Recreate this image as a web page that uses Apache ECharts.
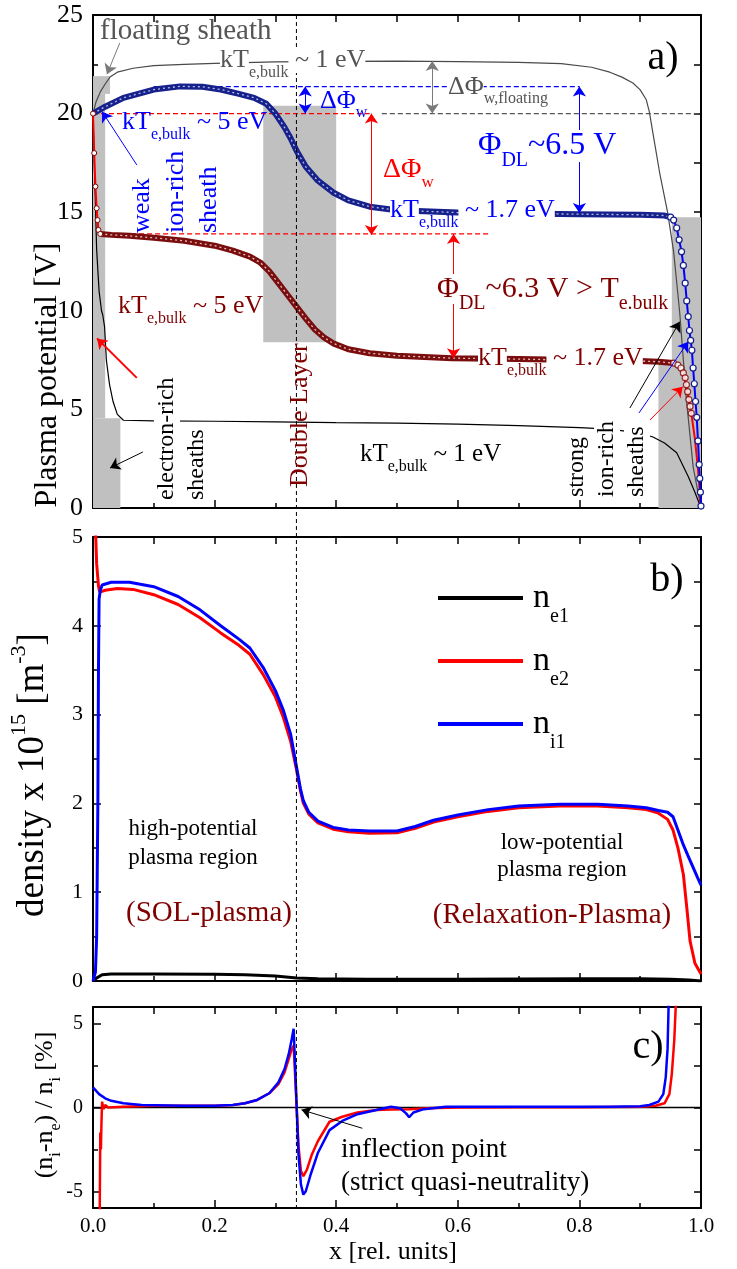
<!DOCTYPE html>
<html>
<head>
<meta charset="utf-8">
<title>plasma potential / density / quasi-neutrality</title>
<script src="https://cdn.jsdelivr.net/npm/echarts@6/dist/echarts.min.js"></script>
<style>
  html, body { margin: 0; padding: 0; background: #fff; }
  #main { width: 737px; height: 1269px; }
</style>
</head>
<body>
<div id="main"></div>
<script>
/*
  3 stacked panels sharing x [rel. units]:
  a) plasma potential, b) densities, c) (ni-ne)/ni
*/

// ---------- panel a : plasma potential [V] ----------
// gray: floating wall, kTe,bulk ~ 1 eV
var potFloating = [[0,20],[0.005,20.6],[0.012,21.1],[0.02,21.5],[0.028,21.85],[0.04,22.1],[0.066,22.3],[0.1,22.43],[0.15,22.5],[0.2,22.55],[0.3,22.62],[0.4,22.65],[0.5,22.66],[0.6,22.64],[0.7,22.6],[0.77,22.53],[0.82,22.35],[0.85,22.1],[0.87,21.85],[0.888,21.55],[0.9,21.2],[0.91,20.7],[0.915,20.1],[0.921,19.0],[0.932,17.0],[0.945,15.0],[0.955,13.0],[0.965,9.9],[0.976,5.5],[0.987,2.1],[1,0]];
// navy: 5 eV -> 1.7 eV
var potHigh = [[0,20],[0.02,20.35],[0.05,20.8],[0.1,21.22],[0.143,21.38],[0.18,21.36],[0.21,21.22],[0.24,21.0],[0.265,20.8],[0.285,20.5],[0.3,20.0],[0.315,19.3],[0.325,18.75],[0.335,18.1],[0.35,17.3],[0.37,16.6],[0.395,16.0],[0.42,15.6],[0.455,15.28],[0.5,15.1],[0.6,14.98],[0.7,14.93],[0.8,14.9],[0.9,14.87],[0.94,14.83],[0.95,14.75]];
var potHighSheathR = [[0.95,14.75],[0.955,14.6],[0.96,14.2],[0.964,13.6],[0.968,13.0],[0.971,12.3],[0.974,11.4],[0.9765,10.5],[0.979,9.7],[0.981,9.0],[0.983,8.5],[0.985,8.0],[0.987,7.1],[0.989,6.3],[0.991,5.4],[0.993,4.6],[0.995,3.4],[0.997,2.2],[0.998,1.5],[0.999,0.8],[1,0.1]];
// maroon: 5 eV -> 1.7 eV
var potLow = [[0.012,13.9],[0.03,13.85],[0.06,13.8],[0.1,13.7],[0.15,13.55],[0.2,13.3],[0.23,13.05],[0.258,12.75],[0.275,12.45],[0.29,12.0],[0.305,11.4],[0.32,10.8],[0.335,10.2],[0.35,9.6],[0.365,9.05],[0.38,8.65],[0.395,8.35],[0.42,8.05],[0.455,7.85],[0.5,7.72],[0.59,7.6],[0.7,7.55],[0.8,7.5],[0.9,7.45],[0.93,7.42],[0.955,7.35]];
var potLowSheathL = [[0,20],[0.002,18.0],[0.004,16.3],[0.006,15.2],[0.0075,14.6],[0.009,14.1],[0.012,13.9]];
var potLowCirclesR = [[0.955,7.35],[0.962,7.25],[0.967,7.1],[0.971,6.85],[0.974,6.6],[0.976,6.25],[0.978,5.9],[0.98,5.5],[0.982,5.15],[0.984,4.8]];
var potRedR = [[0.97,7.0],[0.976,6.2],[0.98,5.5],[0.985,4.6],[0.99,3.5],[0.995,2.0],[1,0]];
// black: kTe,bulk ~ 1 eV, electron-rich sheaths
var potBulk = [[0,20],[0.003,16.5],[0.006,13.1],[0.01,11],[0.014,10.0],[0.016,9.8],[0.017,9.9],[0.019,9.2],[0.022,7.5],[0.027,6.3],[0.033,5.4],[0.04,4.75],[0.05,4.45],[0.1,4.42],[0.2,4.4],[0.3,4.37],[0.4,4.33],[0.5,4.3],[0.6,4.25],[0.7,4.18],[0.8,4.08],[0.85,4.0],[0.9,3.8],[0.921,3.6],[0.94,3.3],[0.96,2.8],[0.979,1.6],[0.99,0.8],[1,0]];
// sheath regions [x0, V0, x1, V1]
var shadeBoxes = [[0,21.0,0.028,21.9],[0,4.55,0.02,21.0],[0,0,0.045,4.55],[0.28,8.4,0.40,20.4],[0.952,0,1,14.74],[0.93,0,1,7.5]];
var dashBlueTop = [[0.1,21.37],[0.8,21.37]];
var dashRed20 = [[0,20],[0.455,20]];
var dashGray20 = [[0.475,20],[1,20]];
var dashRed14 = [[0.01,13.9],[0.65,13.9]];
var xDL = 0.3346;   // double layer / inflection point

// ---------- panel b : density x 1e15 ----------
var denE1 = [[0,0],[0.005,0.03],[0.015,0.07],[0.03,0.08],[0.1,0.08],[0.2,0.075],[0.25,0.07],[0.3,0.055],[0.335,0.035],[0.37,0.025],[0.45,0.02],[0.6,0.02],[0.8,0.025],[0.9,0.025],[0.95,0.02],[0.98,0.01],[1,0]];
var denE2 = [[0.003,5.3],[0.006,4.7],[0.009,4.45],[0.011,4.38],[0.02,4.4],[0.04,4.42],[0.066,4.41],[0.1,4.35],[0.14,4.24],[0.176,4.09],[0.21,3.92],[0.24,3.78],[0.258,3.68],[0.28,3.45],[0.3,3.2],[0.313,2.97],[0.325,2.7],[0.335,2.37],[0.341,2.15],[0.346,2.0],[0.355,1.88],[0.37,1.78],[0.395,1.71],[0.42,1.68],[0.455,1.665],[0.5,1.67],[0.53,1.72],[0.56,1.79],[0.6,1.85],[0.65,1.91],[0.7,1.95],[0.768,1.97],[0.83,1.97],[0.88,1.95],[0.91,1.93],[0.93,1.89],[0.945,1.82],[0.954,1.7],[0.962,1.5],[0.971,1.2],[0.977,0.8],[0.982,0.45],[0.99,0.2],[1,0.08]];
var denI1 = [[0,0],[0.004,0.1],[0.006,0.5],[0.008,2.0],[0.009,3.5],[0.01,4.3],[0.012,4.4],[0.015,4.46],[0.03,4.49],[0.06,4.49],[0.1,4.44],[0.14,4.33],[0.176,4.18],[0.21,4.0],[0.24,3.85],[0.258,3.75],[0.28,3.53],[0.3,3.27],[0.313,3.05],[0.325,2.78],[0.335,2.4],[0.341,2.17],[0.346,2.03],[0.355,1.9],[0.37,1.8],[0.395,1.73],[0.42,1.7],[0.455,1.69],[0.5,1.69],[0.53,1.74],[0.56,1.81],[0.6,1.87],[0.65,1.93],[0.7,1.97],[0.768,1.99],[0.83,1.99],[0.88,1.97],[0.91,1.95],[0.93,1.92],[0.945,1.9],[0.954,1.85],[0.962,1.7],[0.97,1.55],[0.978,1.42],[0.987,1.28],[0.994,1.17],[1,1.08]];

// ---------- panel c : (ni-ne)/ni [%] ----------
var qnRed = [[0.004,-6.5],[0.011,-6.5],[0.012,-1.5],[0.013,-2.5],[0.014,-0.8],[0.015,0.35],[0.017,-0.1],[0.02,0.15],[0.025,0],[0.05,0.05],[0.1,0.1],[0.2,0.1],[0.23,0.15],[0.25,0.25],[0.27,0.45],[0.29,0.85],[0.305,1.4],[0.315,2.1],[0.322,2.9],[0.327,3.5],[0.33,3.7],[0.333,1.5],[0.335,0],[0.338,-2.3],[0.342,-3.8],[0.346,-4.1],[0.352,-3.7],[0.36,-2.8],[0.37,-2.0],[0.389,-0.85],[0.41,-0.55],[0.435,-0.3],[0.466,-0.15],[0.49,-0.12],[0.52,-0.1],[0.55,-0.05],[0.6,0],[0.7,0.02],[0.8,0.02],[0.9,0.05],[0.925,0.1],[0.94,0.25],[0.948,0.8],[0.952,2.0],[0.956,4.0],[0.959,6.5]];
var qnBlue = [[0,1.2],[0.01,0.8],[0.02,0.55],[0.03,0.4],[0.05,0.25],[0.08,0.15],[0.15,0.1],[0.2,0.1],[0.23,0.15],[0.25,0.25],[0.27,0.45],[0.29,0.85],[0.305,1.5],[0.315,2.3],[0.322,3.2],[0.327,4.1],[0.33,4.7],[0.333,2.0],[0.335,0],[0.338,-2.8],[0.342,-4.6],[0.346,-5.2],[0.35,-5.0],[0.358,-4.0],[0.37,-2.7],[0.389,-1.35],[0.41,-0.8],[0.435,-0.4],[0.466,-0.15],[0.49,0.05],[0.505,-0.05],[0.515,-0.35],[0.52,-0.58],[0.527,-0.3],[0.544,-0.1],[0.58,0.05],[0.65,0.05],[0.75,0.05],[0.85,0.05],[0.9,0.08],[0.915,0.15],[0.93,0.35],[0.938,0.8],[0.942,1.8],[0.945,3.5],[0.947,6.5]];
var zeroLine = [[0,0],[1,0]];
var yTicksC = [-5, 0, 5];
var yMinorC = [-2.5, 2.5];
var yRightC = [-5, -2.5, 0, 2.5, 5];

// arrows [from, to, twoHeads]
var arrowsGray = [[[0.044,23.58],[0.023,22.0],false],[[0.558,22.67],[0.558,20.0],true]];
var arrowsBlue = [[[0.072,17.4],[0.015,20.1],false],[[0.349,21.37],[0.349,20.0],true],[[0.80,21.37],[0.80,14.96],true],[[0.898,4.82],[0.979,8.43],false]];
var arrowsRed = [[[0.458,20.0],[0.458,13.85],true],[[0.593,13.9],[0.593,7.6],true],[[0.916,4.46],[0.97,6.15],false]];
var arrowsRedBold = [[[0.072,6.6],[0.0066,8.6],false]];
var arrowsBlack = [[[0.082,2.84],[0.028,2.03],false],[[0.883,5.07],[0.965,9.45],false]];
var arrowsBlackC = [[[0.443,-1.24],[0.343,-0.14],false]];

var FONT = '"Liberation Serif", "Times New Roman", serif';
var NAVY = '#16218c', MAROON = '#800000', RED = '#ff0000', BLUE = '#0000ff', GRAY = '#555555';

var chart = echarts.init(document.getElementById('main'));

// axes: frame on all 4 sides, ticks inside
function frame() { return {show: true, onZero: false, lineStyle: {color: '#000', width: 2}}; }
function tick(len, vals) {
    var t = {show: true, inside: true, length: len, lineStyle: {color: '#000', width: 1.5}};
    if (vals) t.customValues = vals;
    return t;
}
function xBottom(g, labels) {
    return {type: 'value', gridIndex: g, position: 'bottom', min: 0, max: 1, interval: 0.2,
        axisLine: frame(), axisTick: tick(8),
        minorTick: {show: true, splitNumber: 2, length: 5, lineStyle: {color: '#000', width: 1.5}},
        splitLine: {show: false}, minorSplitLine: {show: false},
        axisLabel: {show: labels, fontFamily: FONT, fontSize: 21, color: '#000', margin: 8,
            formatter: function (v) { return v.toFixed(1); }}};
}
function xTop(g) {
    return {type: 'value', gridIndex: g, position: 'top', min: 0, max: 1, interval: 0.1,
        axisLine: frame(), axisTick: tick(7), axisLabel: {show: false}, splitLine: {show: false}};
}
function yLeft(g, min, max, interval, fs) {
    return {type: 'value', gridIndex: g, position: 'left', min: min, max: max, interval: interval,
        axisLine: frame(), axisTick: tick(8),
        minorTick: {show: true, splitNumber: 2, length: 5, lineStyle: {color: '#000', width: 1.5}},
        splitLine: {show: false}, minorSplitLine: {show: false},
        axisLabel: {fontFamily: FONT, fontSize: fs, color: '#000', margin: 10}};
}
function yRight(g, min, max, interval) {
    return {type: 'value', gridIndex: g, position: 'right', min: min, max: max, interval: interval,
        axisLine: frame(), axisTick: tick(7), axisLabel: {show: false}, splitLine: {show: false}};
}

function ln(name, data, color, width, g, extra) {
    return Object.assign({type: 'line', name: name, data: data, xAxisIndex: g * 2, yAxisIndex: g * 2,
        showSymbol: false, symbol: 'none', color: color, silent: true, z: 3,
        lineStyle: {color: color, width: width}}, extra || {});
}
function dash(data, color, g) {
    return ln('', data, color, 1.1, g, {z: 2, lineStyle: {color: color, width: 1.1, type: [5, 3]}});
}
function arrowHost(items, color, width, g) {
    return {type: 'line', data: [], xAxisIndex: g * 2, yAxisIndex: g * 2, silent: true, z: 5,
        markLine: {silent: true, animation: false, symbolSize: 10, label: {show: false},
            emphasis: {disabled: true},
            lineStyle: {color: color, width: width, type: 'solid'}, itemStyle: {color: color},
            data: items.map(function (a) {
                return [{coord: a[0], symbol: a[2] ? 'arrow' : 'none'}, {coord: a[1], symbol: 'arrow'}];
            })}};
}

// text helpers
function pt(x, y, text, size, color, o) {
    o = o || {};
    return {type: 'text', x: x, y: y, z: 100, silent: true, rotation: o.rot || 0,
        style: {text: text, fontFamily: FONT, fontSize: size, fill: color,
            align: o.align || 'left', verticalAlign: 'middle', lineHeight: o.lh || size * 1.2,
            backgroundColor: o.bg}};
}
// rich text: m = main, s = subscript, p = superscript
function rt(x, y, text, size, color, o) {
    o = o || {};
    var sub = o.sub || Math.round(size * 0.62);
    return {type: 'text', x: x, y: y, z: 100, silent: true, rotation: o.rot || 0,
        style: {text: text, fontFamily: FONT, fontSize: size, fill: color,
            align: o.align || 'left', verticalAlign: 'middle',
            rich: {
                m: {fontFamily: FONT, fontSize: size, fill: color, lineHeight: o.lh || size + 2, backgroundColor: o.bg},
                s: {fontFamily: FONT, fontSize: sub, fill: color, height: 2, lineHeight: 2, verticalAlign: 'bottom'},
                p: {fontFamily: FONT, fontSize: sub, fill: color, height: 2, lineHeight: 2, verticalAlign: 'top'}
            }}};
}
var UP = Math.PI / 2;

var graphics = [
    // panel a
    pt(100, 31, 'floating sheath', 29, GRAY),
    rt(220, 60, '{m|kT}{s|e,bulk}{m| ~ 1 eV}', 26, GRAY, {bg: '#fff'}),
    rt(448, 87, '{m|ΔΦ}{s|w,floating}', 26, GRAY, {bg: '#fff', lh: 25}),
    rt(320, 101, '{m|ΔΦ}{s|w}', 26, BLUE, {lh: 25}),
    rt(122, 122, '{m|kT}{s|e,bulk}{m| ~ 5 eV}', 26, BLUE),
    pt(176, 233, 'weak\nion-rich\nsheath', 26, BLUE, {lh: 33.5, rot: UP}),
    rt(118, 306, '{m|kT}{s|e,bulk}{m| ~ 5 eV}', 26, MAROON),
    pt(167, 500, 'electron-rich', 24, '#000', {rot: UP, bg: '#fff', lh: 26}),
    pt(197, 500, 'sheaths', 24, '#000', {rot: UP}),
    pt(300, 487, 'Double Layer', 26, MAROON, {rot: UP}),
    rt(360, 454, '{m|kT}{s|e,bulk}{m| ~ 1 eV}', 25, '#000'),
    pt(577, 497, 'strong', 24, '#000', {rot: UP}),
    pt(607, 497, 'ion-rich', 24, '#000', {rot: UP, bg: '#fff', lh: 26}),
    pt(637, 497, 'sheaths', 24, '#000', {rot: UP, bg: '#fff', lh: 26}),
    rt(478, 358, '{m|kT}{s|e,bulk}{m| ~ 1.7 eV}', 26, MAROON, {bg: '#fff'}),
    rt(390, 210, '{m|kT}{s|e,bulk}{m| ~ 1.7 eV}', 26, BLUE, {bg: '#fff'}),
    rt(478, 146, '{m|Φ}{s|DL}{m|~6.5 V}', 32, BLUE, {bg: '#fff', sub: 20, lh: 32}),
    rt(383, 170, '{m|ΔΦ}{s|w}', 28, RED, {lh: 27}),
    rt(437, 289, '{m|Φ}{s|DL}{m|~6.3 V > T}{s|e.bulk}', 30, MAROON, {bg: '#fff', sub: 20, lh: 32}),
    pt(663, 58, 'a)', 40, '#000', {align: 'center'}),
    // panel b
    pt(667, 580, 'b)', 40, '#000', {align: 'center'}),
    pt(193, 843.5, 'high-potential\nplasma region', 23, '#000', {align: 'center', lh: 29}),
    pt(209, 913, '(SOL-plasma)', 29, MAROON, {align: 'center'}),
    pt(562, 856, 'low-potential\nplasma region', 23, '#000', {align: 'center', lh: 27}),
    pt(552, 915, '(Relaxation-Plasma)', 29, MAROON, {align: 'center'}),
    // panel c
    pt(648, 1047, 'c)', 40, '#000', {align: 'center'}),
    pt(341, 1166, 'inflection point\n(strict quasi-neutrality)', 27, '#000', {lh: 33}),
    // axis titles
    pt(393, 1252, 'x [rel. units]', 26, '#000', {align: 'center'}),
    pt(48, 375, 'Plasma potential [V]', 32, '#000', {align: 'center', rot: UP}),
    rt(33, 775, '{m|density x 10}{p|15}{m| [m}{p|-3}{m|]}', 37, '#000', {align: 'center', rot: UP, lh: 30, sub: 22}),
    rt(45, 1105, '{m|(n}{s|i}{m|-n}{s|e}{m|) / n}{s|i}{m| [%]}', 26, '#000', {align: 'center', rot: UP, lh: 24})
];

var option = {
    animation: false,
    backgroundColor: '#fff',
    grid: [
        {left: 93, top: 15, width: 608, height: 493},
        {left: 93, top: 537, width: 608, height: 444},
        {left: 93, top: 1007, width: 608, height: 201}
    ],
    xAxis: [xBottom(0, false), xTop(0), xBottom(1, false), xTop(1), xBottom(2, true), xTop(2)],
    yAxis: [
        yLeft(0, 0, 25, 5, 26), yRight(0, 0, 25, 2.5),
        yLeft(1, 0, 5, 1, 22), yRight(1, 0, 5, 0.5),
        {type: 'value', gridIndex: 2, position: 'left', min: -6, max: 6,
            axisLine: frame(), axisTick: tick(8, yTicksC), splitLine: {show: false},
            axisLabel: {customValues: yTicksC, fontFamily: FONT, fontSize: 20, color: '#000', margin: 10}},
        {type: 'value', gridIndex: 2, position: 'right', min: -6, max: 6,
            axisLine: frame(), axisTick: tick(7, yRightC), axisLabel: {show: false}, splitLine: {show: false}},
        {type: 'value', gridIndex: 2, position: 'left', min: -6, max: 6,
            axisLine: {show: false}, axisTick: tick(5, yMinorC), axisLabel: {show: false}, splitLine: {show: false}}
    ],
    legend: {
        data: ['ne1', 'ne2', 'ni1'], orient: 'vertical', left: 433, top: 576,
        itemWidth: 85, itemHeight: 4, itemGap: 17, icon: 'rect', selectedMode: false,
        formatter: function (n) { return '{n|n}{s|' + n.slice(1) + '}'; },
        textStyle: {rich: {
            n: {fontFamily: FONT, fontSize: 34, lineHeight: 40, color: '#000', padding: [0, 0, 0, 5]},
            s: {fontFamily: FONT, fontSize: 20, height: 2, lineHeight: 2, verticalAlign: 'bottom', color: '#000'}
        }}
    },
    series: [
        // panel a
        {type: 'line', data: [], xAxisIndex: 0, yAxisIndex: 0, silent: true, z: 1,
            markArea: {silent: true, itemStyle: {color: '#c0c0c0'},
                data: shadeBoxes.map(function (b) {
                    return [{xAxis: b[0], yAxis: b[1]}, {xAxis: b[2], yAxis: b[3]}];
                })}},
        dash(dashBlueTop, BLUE, 0),
        dash(dashRed20, RED, 0),
        dash(dashGray20, GRAY, 0),
        dash(dashRed14, RED, 0),
        ln('bulk', potBulk, '#000', 1.2, 0),
        ln('floating', potFloating, '#4a4a4a', 1.2, 0),
        ln('low', potLow, '#7a0d0d', 6, 0),
        ln('', potLow, '#e6bcbc', 1.3, 0, {z: 4, lineStyle: {color: '#e6bcbc', width: 1.3, type: [2, 3]}}),
        ln('', potLowSheathL, RED, 2, 0, {z: 4, showSymbol: true, symbol: 'circle', symbolSize: 5,
            itemStyle: {color: '#fff', borderColor: MAROON, borderWidth: 1}}),
        ln('', potRedR, RED, 2, 0),
        {type: 'scatter', data: potLowCirclesR, xAxisIndex: 0, yAxisIndex: 0, silent: true, z: 4,
            symbolSize: 6, itemStyle: {color: '#fff', borderColor: MAROON, borderWidth: 1.2}},
        ln('high', potHigh, NAVY, 6, 0),
        ln('', potHigh, '#b5bbe6', 1.3, 0, {z: 4, lineStyle: {color: '#b5bbe6', width: 1.3, type: [2, 3]}}),
        ln('', potHighSheathR, BLUE, 2, 0, {z: 4, showSymbol: true, symbol: 'circle', symbolSize: 6,
            itemStyle: {color: '#fff', borderColor: NAVY, borderWidth: 1.2}}),
        arrowHost(arrowsGray, '#7a7a7a', 1, 0),
        arrowHost(arrowsBlue, BLUE, 1, 0),
        arrowHost(arrowsRed, RED, 1, 0),
        arrowHost(arrowsRedBold, RED, 2, 0),
        arrowHost(arrowsBlack, '#000', 1, 0),
        // panel b
        ln('ne1', denE1, '#000', 3, 1),
        ln('ne2', denE2, RED, 3, 1),
        ln('ni1', denI1, BLUE, 3, 1),
        // panel c
        ln('', zeroLine, '#000', 1.5, 2),
        ln('dRed', qnRed, RED, 2.5, 2),
        ln('dBlue', qnBlue, BLUE, 2.5, 2),
        arrowHost(arrowsBlackC, '#000', 1, 2)
    ],
    graphic: graphics
};

chart.setOption(option);

// dashed marker of the double layer through all three panels
var pTop = chart.convertToPixel({gridIndex: 0}, [xDL, 25]);
var pBot = chart.convertToPixel({gridIndex: 2}, [xDL, -6]);
graphics.push({type: 'line', z: 60, silent: true,
    shape: {x1: pTop[0], y1: pTop[1], x2: pBot[0], y2: pBot[1]},
    style: {stroke: '#000', lineWidth: 1, lineDash: [4, 3]}});
chart.setOption({graphic: graphics});
</script>
</body>
</html>
